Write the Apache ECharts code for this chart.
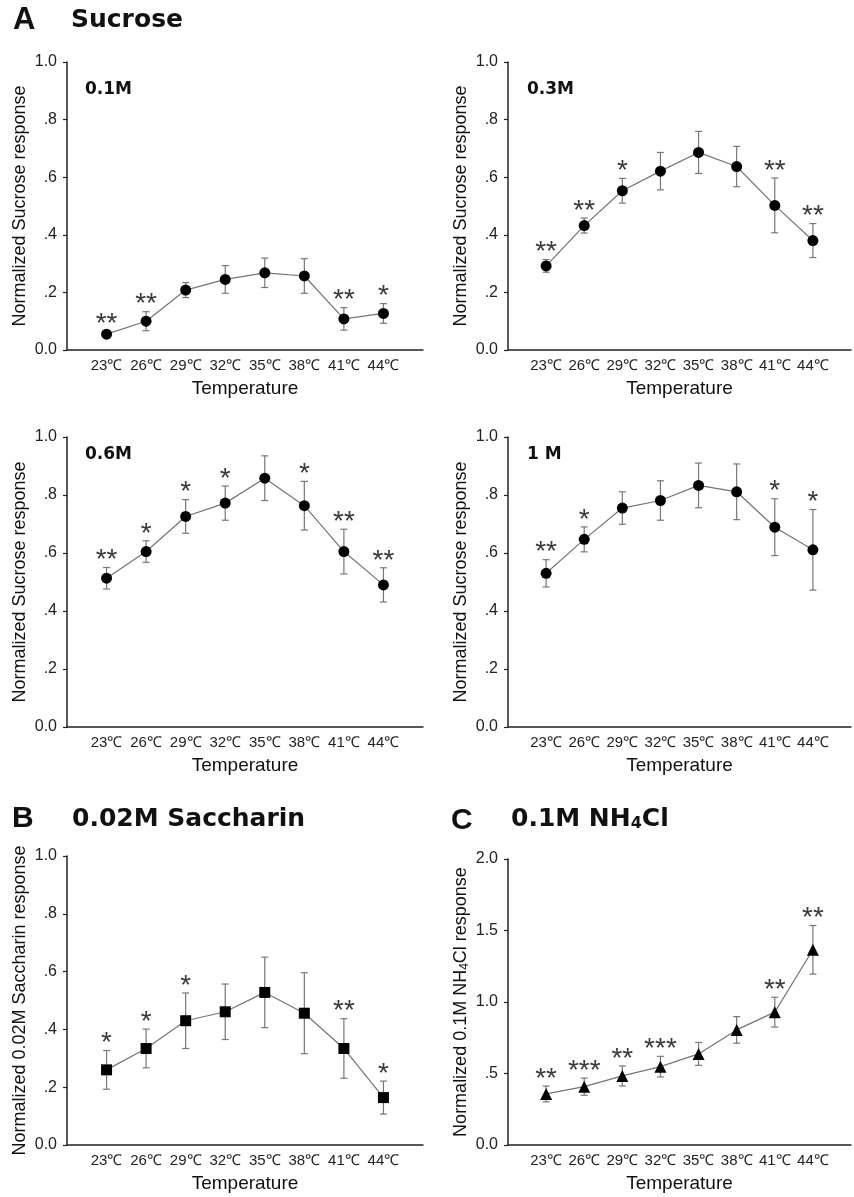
<!DOCTYPE html>
<html>
<head>
<meta charset="utf-8">
<title>Temperature dependence of taste responses</title>
<script src="https://cdn.jsdelivr.net/npm/echarts@6/dist/echarts.min.js"></script>
<style>
  html, body { margin: 0; padding: 0; background: #fff; }
  #chart { width: 854px; height: 1197px; }
</style>
</head>
<body>
<div id="chart"></div>
<script>
// categories
const temps = ['23℃', '26℃', '29℃', '32℃', '35℃', '38℃', '41℃', '44℃'];

// A: sucrose, 4 concentrations (mean, error, significance)
const suc01 = [0.055, 0.100, 0.208, 0.245, 0.268, 0.257, 0.108, 0.127];
const suc01Err = [0.010, 0.033, 0.026, 0.048, 0.051, 0.060, 0.039, 0.034];
const suc01Sig = ['**', '**', '', '', '', '', '**', '*'];

const suc03 = [0.292, 0.432, 0.553, 0.621, 0.686, 0.637, 0.502, 0.380];
const suc03Err = [0.022, 0.026, 0.043, 0.065, 0.073, 0.070, 0.095, 0.059];
const suc03Sig = ['**', '**', '*', '', '', '', '**', '**'];

const suc06 = [0.513, 0.605, 0.726, 0.772, 0.858, 0.763, 0.605, 0.490];
const suc06Err = [0.037, 0.037, 0.058, 0.059, 0.077, 0.084, 0.077, 0.059];
const suc06Sig = ['**', '*', '*', '*', '', '*', '**', '**'];

const suc1 = [0.530, 0.647, 0.755, 0.781, 0.833, 0.811, 0.689, 0.611];
const suc1Err = [0.047, 0.043, 0.056, 0.068, 0.077, 0.096, 0.098, 0.139];
const suc1Sig = ['**', '*', '', '', '', '', '*', '*'];

// B: saccharin
const sac = [0.260, 0.334, 0.430, 0.461, 0.528, 0.456, 0.334, 0.164];
const sacErr = [0.067, 0.067, 0.096, 0.096, 0.122, 0.140, 0.103, 0.057];
const sacSig = ['*', '*', '*', '', '', '', '**', '*'];

// C: NH4Cl
const nh4 = [0.357, 0.408, 0.483, 0.548, 0.637, 0.805, 0.929, 1.365];
const nh4Err = [0.055, 0.060, 0.070, 0.072, 0.080, 0.093, 0.104, 0.170];
const nh4Sig = ['**', '***', '**', '***', '', '', '**', '**'];

// y tick labels
const ticks01 = { 0: '0.0', 0.2: '.2', 0.4: '.4', 0.6: '.6', 0.8: '.8', 1: '1.0' };
const ticks02 = { 0: '0.0', 0.5: '.5', 1: '1.0', 1.5: '1.5', 2: '2.0' };

const FONT = "'Liberation Sans', Arial, sans-serif";
const HEAD = "'DejaVu Sans', 'Liberation Sans', sans-serif";

const panels = [
  { mean: suc01, err: suc01Err, sig: suc01Sig, symbol: 'circle', max: 1, step: 0.2, ticks: ticks01,
    yName: 'Normalized Sucrose response', grid: { left: 67, top: 62, width: 356, height: 288 } },
  { mean: suc03, err: suc03Err, sig: suc03Sig, symbol: 'circle', max: 1, step: 0.2, ticks: ticks01,
    yName: 'Normalized Sucrose response', grid: { left: 508, top: 62, width: 355, height: 288 } },
  { mean: suc06, err: suc06Err, sig: suc06Sig, symbol: 'circle', max: 1, step: 0.2, ticks: ticks01,
    yName: 'Normalized Sucrose response', grid: { left: 67, top: 437, width: 356, height: 290 } },
  { mean: suc1, err: suc1Err, sig: suc1Sig, symbol: 'circle', max: 1, step: 0.2, ticks: ticks01,
    yName: 'Normalized Sucrose response', grid: { left: 508, top: 437, width: 355, height: 290 } },
  { mean: sac, err: sacErr, sig: sacSig, symbol: 'rect', max: 1, step: 0.2, ticks: ticks01,
    yName: 'Normalized 0.02M Saccharin response', grid: { left: 67, top: 856, width: 356, height: 289 } },
  { mean: nh4, err: nh4Err, sig: nh4Sig, symbol: 'triangle', max: 2, step: 0.5, ticks: ticks02,
    yName: 'Normalized 0.1M NH{sub|4}Cl response', grid: { left: 508, top: 859, width: 355, height: 286 } }
];

const grid = [], xAxis = [], yAxis = [], series = [];

panels.forEach((p, i) => {
  grid.push(p.grid);
  xAxis.push({
    gridIndex: i, type: 'value', min: 0, max: 9, interval: 1,
    name: 'Temperature', nameLocation: 'middle', nameGap: 29,
    nameTextStyle: { fontFamily: FONT, fontSize: 19, color: '#111' },
    axisLine: { show: true, lineStyle: { color: '#222', width: 1.5 } },
    axisTick: { show: false },
    splitLine: { show: false },
    axisLabel: {
      fontFamily: FONT, fontSize: 15, color: '#222', margin: 8,
      formatter: v => temps[v - 1] || ''
    }
  });
  yAxis.push({
    gridIndex: i, type: 'value', min: 0, max: p.max, interval: p.step,
    name: p.yName, nameLocation: 'middle', nameGap: 37,
    nameTextStyle: {
      fontFamily: FONT, fontSize: 18, color: '#111', lineHeight: 20,
      rich: { sub: { fontFamily: FONT, fontSize: 12, color: '#111', verticalAlign: 'bottom', lineHeight: 13 } }
    },
    axisLine: { show: true, lineStyle: { color: '#222', width: 1.5 } },
    axisTick: { show: true, length: 4, lineStyle: { color: '#222', width: 1.2 } },
    splitLine: { show: false },
    axisLabel: {
      fontFamily: FONT, fontSize: 16, color: '#222', margin: 10,
      formatter: v => p.ticks[Math.round(v * 10) / 10] || ''
    }
  });

  const rows = p.mean.map((m, k) => [k + 1, m, p.err[k]]);

  series.push({
    type: 'custom', xAxisIndex: i, yAxisIndex: i, z: 1,
    data: rows,
    renderItem: (params, api) => {
      const x = api.value(0), y = api.value(1), e = api.value(2);
      const top = api.coord([x, y + e]);
      const bot = api.coord([x, y - e]);
      const c = 3.5;
      const st = { stroke: '#777', lineWidth: 1.2 };
      const children = [
        { type: 'line', shape: { x1: top[0], y1: top[1], x2: bot[0], y2: bot[1] }, style: st },
        { type: 'line', shape: { x1: top[0] - c, y1: top[1], x2: top[0] + c, y2: top[1] }, style: st },
        { type: 'line', shape: { x1: bot[0] - c, y1: bot[1], x2: bot[0] + c, y2: bot[1] }, style: st }
      ];
      const s = p.sig[params.dataIndex];
      if (s) {
        children.push({
          type: 'text',
          style: {
            x: top[0], y: top[1] + 7, text: s,
            fontFamily: FONT, fontSize: 28, fill: '#3a3a3a',
            align: 'center', verticalAlign: 'bottom'
          }
        });
      }
      return { type: 'group', children };
    }
  });

  series.push({
    type: 'line', xAxisIndex: i, yAxisIndex: i, z: 3,
    data: rows.map(r => [r[0], r[1]]),
    symbol: p.symbol, symbolSize: p.symbol === 'triangle' ? 12 : 11,
    showAllSymbol: true,
    lineStyle: { color: '#747474', width: 1.2 },
    itemStyle: { color: '#000' },
    silent: true, animation: false
  });
});

function txt(x, y, text, size, family) {
  return {
    type: 'text', left: x, top: y,
    style: { text, fontFamily: family || HEAD, fontSize: size, fontWeight: 'bold', fill: '#111' }
  };
}

const graphic = [
  txt(13, 5, 'A', 31, FONT),
  txt(71, 8, 'Sucrose', 25),
  txt(12, 804, 'B', 30, FONT),
  txt(72, 807, '0.02M Saccharin', 25),
  txt(451, 806, 'C', 30, FONT),
  { type: 'text', left: 511, top: 807,
    style: {
      text: '0.1M NH{s|4}Cl', fontFamily: HEAD, fontSize: 25, fontWeight: 'bold', fill: '#111',
      rich: { s: { fontFamily: HEAD, fontSize: 16, fontWeight: 'bold', fill: '#111', verticalAlign: 'bottom', lineHeight: 24 } }
    } },
  txt(85, 81, '0.1M', 17),
  txt(527, 81, '0.3M', 17),
  txt(85, 446, '0.6M', 17),
  txt(527, 446, '1 M', 17)
];

const chart = echarts.init(document.getElementById('chart'), null, { renderer: 'canvas' });
chart.setOption({
  animation: false,
  backgroundColor: '#fff',
  grid, xAxis, yAxis, series, graphic
});
</script>
</body>
</html>
